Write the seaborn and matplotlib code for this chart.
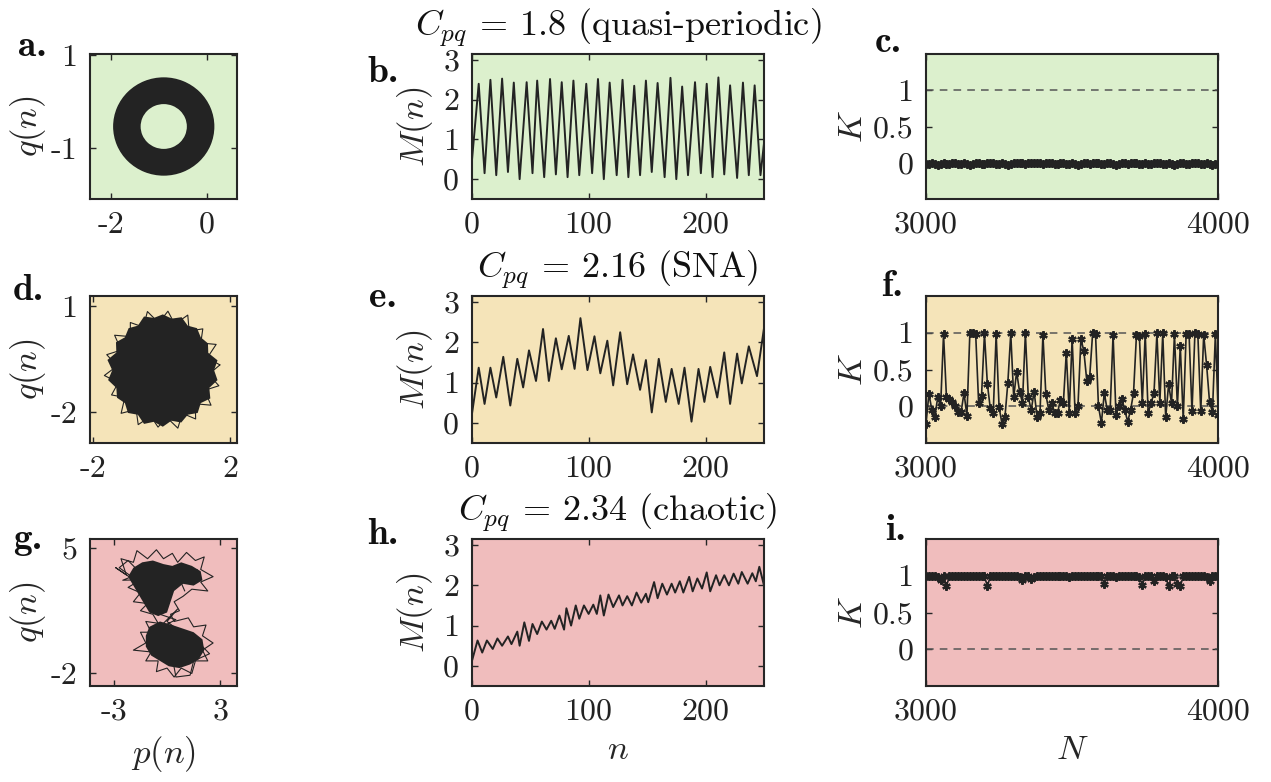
import numpy as np
import matplotlib
matplotlib.use("Agg")
import matplotlib.pyplot as plt
from matplotlib.patches import Wedge
import seaborn as sns

# ---- data ----
# row 1: quasi-periodic, C_pq = 1.8
ring_center = (-0.9, -0.54)
ring_outer = 1.04
ring_inner = 0.50

b_n = [0, 6, 11, 16, 21, 26, 31, 36, 41, 47, 52, 56, 62, 67, 72, 77, 82, 87, 92, 98,
       103, 108, 113, 118, 124, 129, 134, 139, 144, 149, 154, 159, 165, 170, 175, 180,
       185, 191, 196, 201, 206, 211, 216, 221, 227, 232, 237, 242, 247, 250]
b_M = [0.40, 2.40, 0.15, 2.50, 0.10, 2.53, 0.18, 2.43, 0.00, 2.44, 0.15, 2.48, 0.05,
       2.52, 0.12, 2.44, 0.05, 2.48, 0.10, 2.40, 0.15, 2.52, 0.00, 2.43, 0.10, 2.50,
       0.05, 2.35, 0.10, 2.48, 0.18, 2.42, 0.05, 2.55, 0.00, 2.33, 0.10, 2.44, 0.15,
       2.40, 0.05, 2.56, 0.12, 2.36, 0.03, 2.43, 0.10, 2.36, 0.10, 0.90]

c_K = [-0.02, -0.02, -0.01, -0.02, -0.03, -0.02, -0.01, -0.02, -0.02, -0.01,
       -0.01, -0.02, -0.02, -0.01, -0.02, -0.03, -0.02, -0.01, -0.01, -0.02,
       -0.02, -0.01, 0.00, -0.01, -0.02, -0.02, -0.01, -0.02, -0.03, -0.02,
       -0.01, -0.01, 0.00, -0.01, -0.02, -0.01, -0.01, 0.00, -0.01, -0.01,
       -0.02, -0.01, 0.00, -0.01, -0.02, -0.02, -0.01, -0.01, -0.02, -0.02,
       -0.01, -0.02, -0.03, -0.02, -0.01, -0.01, -0.02, -0.01, 0.00, -0.01,
       -0.02, -0.02, -0.01, -0.01, -0.02, -0.03, -0.02, -0.01, -0.01, -0.02,
       -0.01, 0.00, -0.01, -0.02, -0.02, -0.01, -0.02, -0.02, -0.01, 0.00,
       -0.01, -0.02, -0.02, -0.01, -0.02, -0.03, -0.02, -0.01, -0.01, -0.02,
       -0.02, -0.01, 0.00, -0.01, -0.02, -0.02, -0.01, -0.02, -0.03, -0.02,
       -0.02]

# row 2: SNA, C_pq = 2.16
d_fill_x = [1.53, 1.63, 1.36, 1.35, 1.14, 1.03, 0.76, 0.58, 0.29, 0.03, -0.23, -0.52,
            -0.70, -0.97, -1.08, -1.34, -1.33, -1.59, -1.45, -1.57, -1.33, -1.31, -1.08,
            -0.99, -0.70, -0.52, -0.23, 0.03, 0.28, 0.57, 0.76, 1.05, 1.14, 1.42, 1.39, 1.63]
d_fill_y = [-0.82, -0.54, -0.33, -0.06, 0.11, 0.37, 0.44, 0.68, 0.64, 0.76, 0.66, 0.70,
            0.44, 0.37, 0.11, -0.03, -0.32, -0.53, -0.82, -1.10, -1.32, -1.60, -1.75,
            -2.03, -2.08, -2.34, -2.28, -2.42, -2.25, -2.30, -2.08, -2.03, -1.75, -1.62,
            -1.32, -1.10]
d_path_x = [1.70, 1.33, 1.59, 1.14, 1.20, 0.80, 0.76, 0.38, 0.18, -0.09, -0.42, -0.54,
            -0.92, -0.92, -1.38, -1.19, -1.61, -1.31, -1.68, -1.27, -1.47, -1.08, -1.19,
            -0.75, -0.69, -0.32, -0.11, 0.15, 0.47, 0.60, 0.99, 0.98, 1.44, 1.25, 1.67,
            1.37, 1.70]
d_path_y = [-0.67, -0.47, -0.09, -0.05, 0.35, 0.29, 0.74, 0.48, 0.85, 0.52, 0.84, 0.40,
            0.53, 0.13, 0.17, -0.25, -0.38, -0.70, -0.97, -1.17, -1.52, -1.59, -2.04,
            -1.93, -2.36, -2.12, -2.43, -2.16, -2.46, -2.04, -2.20, -1.77, -1.81, -1.39,
            -1.26, -0.94, -0.67]

e_n = [0, 6, 11, 16, 21, 27, 33, 39, 44, 49, 55, 61, 66, 72, 77, 83, 88, 93, 99, 105,
       110, 116, 121, 127, 133, 138, 144, 149, 154, 160, 166, 171, 177, 182, 188, 194,
       199, 204, 210, 216, 221, 227, 231, 237, 244, 250]
e_M = [0.18, 1.37, 0.47, 1.37, 0.63, 1.64, 0.43, 1.59, 0.88, 1.80, 1.04, 2.33, 1.04,
       2.10, 1.33, 2.16, 1.34, 2.60, 1.31, 2.15, 1.23, 2.04, 0.93, 2.25, 0.96, 1.70,
       0.82, 1.56, 0.26, 1.59, 0.52, 1.34, 0.47, 1.37, 0.03, 1.34, 0.52, 1.39, 0.63,
       1.75, 0.47, 1.72, 0.98, 1.90, 1.16, 2.35]

f_K = [-0.24, 0.17, -0.05, -0.15, 0.12, 0.00, 0.98, 0.12, 0.10, 0.06,
       0.01, -0.08, -0.08, 0.18, -0.13, 0.99, 0.99, 0.98, 0.05, 0.14,
       0.99, 0.30, -0.03, -0.09, 0.98, -0.01, -0.24, -0.15, 0.32, 0.99,
       0.12, 0.47, 0.20, 0.05, 0.99, 0.12, -0.05, 0.20, -0.15, -0.09,
       0.97, 0.16, -0.05, 0.05, -0.09, -0.09, 0.09, 0.05, 0.73, -0.09,
       0.92, -0.09, 0.01, 0.92, 0.75, 0.35, 0.40, 0.99, 0.98, 0.00,
       -0.23, 0.18, -0.05, -0.05, 0.97, -0.12, 0.01, 0.10, -0.05, -0.21,
       -0.05, 0.18, 0.97, 0.95, 0.05, 0.98, -0.09, 0.04, 0.18, 0.99,
       0.05, 0.99, -0.15, 0.30, 0.04, 0.98, 0.00, 0.82, -0.18, 0.98,
       0.98, -0.07, 0.99, 0.98, -0.07, 0.97, 0.56, 0.06, -0.08, 0.98,
       -0.12]

# row 3: chaotic, C_pq = 2.34
g_up_x = [-1.9, -1.4, -0.8, -0.2, 0.3, 0.8, 1.4, 1.9, 2.0, 1.5, 0.9, 0.4, 0.2, 0.0,
          -0.5, -1.0, -1.3, -1.6, -1.9, -2.2]
g_up_y = [3.9, 4.2, 4.3, 4.1, 4.0, 4.2, 4.0, 3.7, 3.2, 2.9, 3.0, 2.6, 2.0, 1.4,
          1.2, 1.4, 1.9, 2.4, 2.9, 3.4]
g_low_x = [-1.0, -0.4, 0.3, 0.9, 1.5, 2.0, 2.1, 1.8, 1.3, 0.7, 0.1, -0.4, -0.9, -1.2, -1.2]
g_low_y = [0.6, 0.9, 0.7, 0.5, 0.3, -0.1, -0.7, -1.2, -1.5, -1.7, -1.6, -1.3, -1.0, -0.5, 0.1]
g_path_x = [-2.9, -2.3, -2.6, -1.9, -1.7, -1.1, -0.6, -0.2, 0.3, 0.6, 1.1, 1.6, 2.1, 1.9,
            2.6, 1.9, 2.3, 1.4, 0.9, 0.4, 0.7, 0.2, 0.4, 1.2, 1.5, 2.2, 2.0, 2.6, 2.0,
            2.3, 1.6, 1.4, 0.8, 0.4, 0.0, -0.6, -0.5, -1.2, -0.9, -1.9, -1.2, -1.5, -0.9,
            -1.2, -0.5, -0.8, -1.5, -1.1, -1.9, -1.5, -2.2, -1.7, -2.9]
g_path_y = [3.9, 3.5, 4.4, 4.2, 4.85, 4.4, 4.9, 4.4, 4.7, 4.2, 4.75, 4.3, 4.5, 3.8,
            3.4, 3.1, 2.6, 2.7, 2.3, 2.0, 1.5, 1.3, 0.9, 1.1, 0.6, 0.7, 0.1, -0.3, -0.7,
            -1.3, -1.3, -2.0, -1.7, -2.2, -1.7, -1.9, -1.3, -1.3, -0.8, -0.7, -0.3, 0.3,
            0.3, 0.9, 0.8, 1.3, 1.5, 1.9, 2.0, 2.5, 2.8, 3.1, 3.9]
g_tangle_x = [1.0, 0.6, 1.7, 1.1, -2.5, -2.0, -2.7, -2.2, -1.5, -0.9, -0.4, 0.5, -0.5,
              0.6, 0.0, 0.9, 0.3, 0.5, 1.3, 1.5, 2.4, 1.8]
g_tangle_y = [2.6, 3.5, 3.8, 3.3, 3.2, 3.4, 3.9, 4.3, 3.6, 2.2, 1.3, 1.0, 0.5,
              1.6, 0.9, 0.2, -1.1, -2.2, -2.1, -1.3, -0.9, -0.3]

h_n = [0, 5, 9, 13, 18, 22, 26, 31, 34, 39, 41, 45, 49, 52, 56, 60, 64, 68, 71, 75,
       79, 81, 85, 89, 92, 96, 100, 104, 107, 110, 113, 117, 121, 126, 129, 133, 137,
       141, 145, 149, 151, 156, 159, 163, 167, 171, 174, 178, 181, 186, 189, 193, 197,
       201, 204, 209, 212, 216, 220, 224, 228, 231, 236, 240, 243, 246, 250]
h_M = [0.10, 0.63, 0.33, 0.63, 0.42, 0.68, 0.50, 0.73, 0.54, 0.85, 0.50, 1.08, 0.62,
       1.04, 0.79, 1.10, 0.90, 1.12, 0.92, 1.25, 0.90, 1.43, 1.00, 1.50, 1.17, 1.50,
       1.29, 1.52, 1.29, 1.75, 1.25, 1.77, 1.46, 1.75, 1.50, 1.73, 1.50, 1.82, 1.57,
       1.79, 1.58, 2.08, 1.68, 2.04, 1.77, 2.04, 1.82, 2.10, 1.82, 2.21, 1.85, 2.17,
       1.92, 2.32, 1.85, 2.25, 2.00, 2.25, 2.00, 2.29, 2.04, 2.33, 2.04, 2.30, 2.10,
       2.46, 2.00]

i_K = [0.99, 1.00, 0.99, 0.99, 0.98, 0.94, 0.99, 0.86, 0.99, 1.00,
       0.99, 1.00, 1.00, 0.99, 0.99, 1.00, 0.99, 0.99, 1.00, 0.99,
       0.99, 0.86, 0.99, 1.00, 0.99, 0.99, 1.00, 0.99, 0.99, 1.00,
       0.99, 0.99, 0.98, 0.94, 0.99, 0.99, 0.95, 0.98, 0.99, 0.99,
       1.00, 0.99, 0.99, 1.00, 0.99, 0.99, 0.99, 1.00, 0.99, 0.98,
       0.99, 1.00, 0.99, 0.99, 0.99, 1.00, 0.99, 0.99, 1.00, 0.99,
       0.99, 0.89, 0.99, 1.00, 0.99, 0.98, 0.99, 1.00, 0.99, 0.99,
       1.00, 0.99, 0.99, 0.98, 0.88, 0.99, 0.99, 0.99, 0.93, 0.99,
       1.00, 0.99, 0.98, 0.86, 0.99, 1.00, 0.89, 0.86, 0.99, 0.99,
       1.00, 0.99, 0.99, 1.00, 0.99, 0.99, 0.98, 0.93, 0.99, 1.00,
       0.99]

titles = [r"$C_{pq}$ = 1.8 (quasi-periodic)", r"$C_{pq}$ = 2.16 (SNA)",
          r"$C_{pq}$ = 2.34 (chaotic)"]
bg_colors = ["#dcf0cd", "#f5e4b9", "#f0bdbd"]
ink = "#232323"

# ---- style ----
sns.set_theme(style="white")
plt.rcParams["font.family"] = "cmr10"
plt.rcParams["mathtext.fontset"] = "cm"
plt.rcParams["axes.unicode_minus"] = False
plt.rcParams["font.size"] = 23

W, H = 1271, 782
fig = plt.figure(figsize=(W / 100, H / 100), dpi=100)


def box(px_left, px_top, px_w, px_h):
    return fig.add_axes([px_left / W, 1 - (px_top + px_h) / H, px_w / W, px_h / H])


def style(ax, bg, xlim, ylim, xt, yt, xtl, ytl):
    ax.set_facecolor(bg)
    ax.set_xlim(xlim)
    ax.set_ylim(ylim)
    ax.set_xticks(xt)
    ax.set_yticks(yt)
    ax.set_xticklabels(xtl)
    ax.set_yticklabels(ytl)
    for s in ax.spines.values():
        s.set_color("#262626")
        s.set_linewidth(1.5)
    ax.tick_params(direction="in", bottom=True, left=True, top=True, right=True,
                   length=4, width=1, color="#262626", labelsize=23, pad=9,
                   labelcolor="#222222")
    ax.set_xlabel("")
    ax.set_ylabel("")


col_x = [90, 471.7, 926]
col_w = [147, 292.3, 292.3]
row_y = [54, 296, 539]
row_h = [145, 147, 147]

# column 1: phase portraits
ax_a = box(col_x[0], row_y[0], col_w[0], row_h[0])
ax_a.add_patch(Wedge(ring_center, ring_outer, 0, 360, width=ring_outer - ring_inner,
                     facecolor=ink, edgecolor=ink, lw=1.2))
style(ax_a, bg_colors[0], (-2.44, 0.63), (-2.1, 1.02), [-2, 0], [-1, 1],
      ["-2", "0"], ["-1", "1"])

ax_d = box(col_x[0], row_y[1], col_w[0], row_h[1])
ax_d.fill(d_fill_x, d_fill_y, color=ink, lw=0)
sns.lineplot(x=d_path_x, y=d_path_y, sort=False, estimator=None, ax=ax_d,
             color=ink, lw=0.8)
style(ax_d, bg_colors[1], (-2.1, 2.2), (-2.88, 1.28), [-2, 2], [-2, 1],
      ["-2", "2"], ["-2", "1"])

ax_g = box(col_x[0], row_y[2], col_w[0], row_h[2])
ax_g.fill(g_up_x, g_up_y, color=ink, lw=0)
ax_g.fill(g_low_x, g_low_y, color=ink, lw=0)
sns.lineplot(x=g_path_x, y=g_path_y, sort=False, estimator=None, ax=ax_g,
             color=ink, lw=0.8)
sns.lineplot(x=g_tangle_x, y=g_tangle_y, sort=False, estimator=None, ax=ax_g,
             color=ink, lw=0.8)
style(ax_g, bg_colors[2], (-4.35, 3.95), (-2.7, 5.5), [-3, 3], [-2, 5],
      ["-3", "3"], ["-2", "5"])

# column 2: M(n)
m_axes = []
for r, (nn, mm) in enumerate([(b_n, b_M), (e_n, e_M), (h_n, h_M)]):
    ax = box(col_x[1], row_y[r], col_w[1], row_h[r])
    sns.lineplot(x=nn, y=mm, ax=ax, color=ink, lw=1.4)
    style(ax, bg_colors[r], (0, 250), (-0.5, 3.15), [0, 100, 200], [0, 1, 2, 3],
          ["0", "100", "200"], ["0", "1", "2", "3"])
    ax.set_title(titles[r], fontsize=26, pad=13, color="#111111")
    ax.set_ylabel(r"$M(n)$", fontsize=25, labelpad=6)
    m_axes.append(ax)

# column 3: K
k_axes = []
for r, kk in enumerate([c_K, f_K, i_K]):
    ax = box(col_x[2], row_y[r], col_w[2], row_h[r])
    N = np.linspace(3000, 4000, len(kk))
    ax.axhline(0, ls=(0, (5, 4)), color="#555555", lw=1.1, zorder=1)
    ax.axhline(1, ls=(0, (5, 4)), color="#555555", lw=1.1, zorder=1)
    sns.lineplot(x=N, y=kk, ax=ax, color=ink, lw=1.2, marker=(6, 2, 0), markersize=6,
                 markeredgewidth=1.6, markeredgecolor=ink, zorder=3)
    style(ax, bg_colors[r], (3000, 4000), (-0.5, 1.5), [3000, 4000], [0, 0.5, 1],
          ["3000", "4000"], ["0", "0.5", "1"])
    ax.set_ylabel(r"$K$", fontsize=25, labelpad=3)
    k_axes.append(ax)

for ax in [ax_a, ax_d, ax_g]:
    ax.set_ylabel(r"$q(n)$", fontsize=25, labelpad=2)

ax_g.set_xlabel(r"$p(n)$", fontsize=25, labelpad=6)
m_axes[2].set_xlabel(r"$n$", fontsize=25, labelpad=6)
k_axes[2].set_xlabel(r"$N$", fontsize=25, labelpad=6)

# panel letters
letters = [("a.", 32, 46), ("b.", 383, 72), ("c.", 888, 42),
           ("d.", 28, 291), ("e.", 383, 297), ("f.", 892, 287),
           ("g.", 28, 540), ("h.", 383, 535), ("i.", 895, 530)]
for txt, lx, ly in letters:
    fig.text(lx / W, 1 - ly / H, txt, fontfamily="cmb10", fontsize=27,
             ha="center", va="center", color="#111111")

fig.savefig("out.png", dpi=100, facecolor="white")
